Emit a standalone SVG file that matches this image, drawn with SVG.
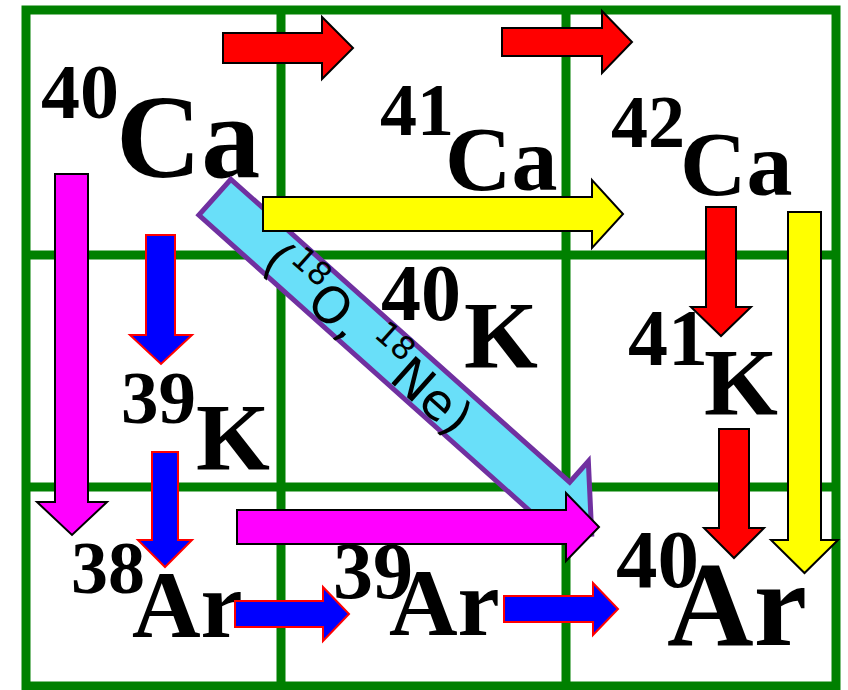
<svg xmlns="http://www.w3.org/2000/svg" width="848" height="690" viewBox="0 0 848 690">
<style>
.grid{fill:none;stroke:#008000;stroke-width:9}
.lbl{font-family:"Liberation Serif","Times New Roman",serif;font-weight:bold;fill:#000}
.ar{stroke:#000;stroke-width:2;stroke-linejoin:miter}
.red{fill:#FF0000}
.yel{fill:#FFFF00}
.mag{fill:#FF00FF}
.blu{fill:#0000FF;stroke:#FF0000;stroke-width:2}
.cyan{fill:#69DFF9;stroke:#7030A0;stroke-width:5;stroke-linejoin:miter}
.ctext{font-family:"DejaVu Sans",sans-serif;fill:#000}
</style>
<rect width="848" height="690" fill="#fff"/>
<g id="grid">
<rect class="grid" x="26" y="10" width="810" height="676"/>
<line class="grid" x1="281" y1="10" x2="281" y2="686"/>
<line class="grid" x1="566" y1="10" x2="566" y2="686"/>
<line class="grid" x1="26" y1="255" x2="836" y2="255"/>
<line class="grid" x1="26" y1="487" x2="836" y2="487"/>
</g>
<g id="n-ca40"><text class="lbl"><tspan x="41" y="118" font-size="78">40</tspan><tspan x="116" y="177" font-size="118">Ca</tspan></text></g>
<g id="n-ca41"><text class="lbl"><tspan x="380" y="135" font-size="74">41</tspan><tspan x="445" y="190" font-size="92">Ca</tspan></text></g>
<g id="n-ca42"><text class="lbl"><tspan x="611" y="147" font-size="74">42</tspan><tspan x="680" y="195" font-size="92">Ca</tspan></text></g>
<g id="n-k39"><text class="lbl"><tspan x="121" y="423" font-size="75">39</tspan><tspan x="196" y="470" font-size="95">K</tspan></text></g>
<g id="n-k40"><text class="lbl"><tspan x="381" y="320" font-size="80">40</tspan><tspan x="464" y="368" font-size="95">K</tspan></text></g>
<g id="n-k41"><text class="lbl"><tspan x="628" y="365" font-size="80">41</tspan><tspan x="704" y="415" font-size="95">K</tspan></text></g>
<g id="n-ar38"><text class="lbl"><tspan x="71" y="593" font-size="74">38</tspan><tspan x="132" y="637" font-size="95">Ar</tspan></text></g>
<g id="n-ar39"><text class="lbl"><tspan x="333" y="598" font-size="80">39</tspan><tspan x="389" y="635" font-size="95">Ar</tspan></text></g>
<g id="n-ar40"><text class="lbl"><tspan x="616" y="587" font-size="83">40</tspan><tspan x="667" y="645" font-size="120">Ar</tspan></text></g>
<g id="connectors">
<g transform="translate(213,195.5) rotate(41.8)">
<polygon class="cyan" points="2.5,-24 457,-24 457,-52 508,0 457,52 457,24 2.5,24"/>
<text class="ctext" x="211" y="21" font-size="50" text-anchor="middle">(<tspan font-size="32" dy="-23">18</tspan><tspan dy="23">O, </tspan><tspan font-size="32" dy="-23">18</tspan><tspan dy="23">Ne)</tspan></text>
</g>
<polygon class="ar red" points="223,33 322,33 322,17 353,48 322,79 322,63 223,63"/>
<polygon class="ar red" points="502,28 602,28 602,11 632,42 602,73 602,56 502,56"/>
<polygon class="ar yel" points="263,197 592,197 592,180 623,214 592,248 592,231 263,231"/>
<polygon class="ar mag" points="237,510 566,510 566,493 599,527 566,561 566,544 237,544"/>
<polygon class="blu" points="235,601 323,601 323,587 349,614 323,641 323,627 235,627"/>
<polygon class="blu" points="504,596 593,596 593,583 618,609 593,635 593,622 504,622"/>
<polygon class="ar mag" points="55,174 88,174 88,502 107,502 72,535 37,502 55,502"/>
<polygon class="blu" points="146,235 175,235 175,335 192,335 161,364 130,335 146,335"/>
<polygon class="blu" points="152,452 178,452 178,540 192,540 165,567 138,540 152,540"/>
<polygon class="ar red" points="706,207 736,207 736,307 751,307 721,336 691,307 706,307"/>
<polygon class="ar red" points="719,429 749,429 749,528 764,528 734,558 704,528 719,528"/>
<polygon class="ar yel" points="788,212 821,212 821,540 838,540 804.5,573 771,540 788,540"/>
</g>
</svg>
